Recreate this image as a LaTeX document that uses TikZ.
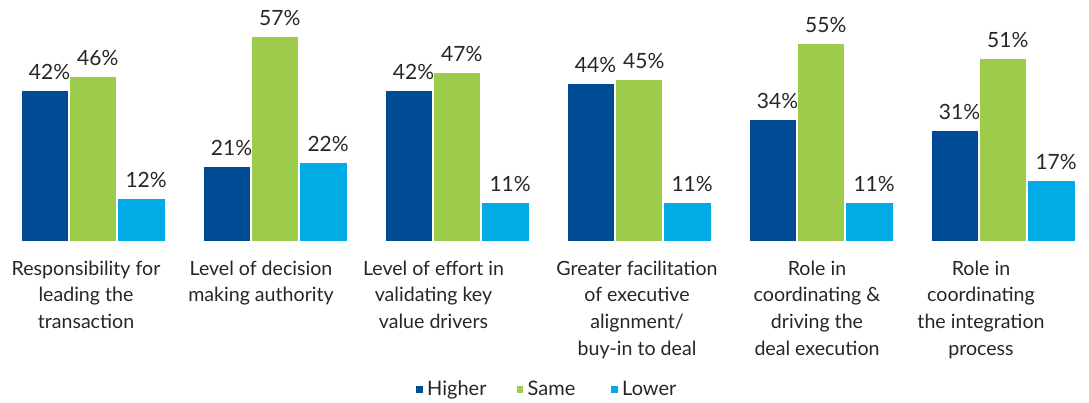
\documentclass[tikz,border=0pt]{standalone}
\usepackage{fontspec}
\setmainfont{Lato}
\usepackage{tikz}

\definecolor{HigherBlue}{RGB}{0,75,147}
\definecolor{SameGreen}{RGB}{157,203,76}
\definecolor{LowerBlue}{RGB}{0,171,230}
\definecolor{TextGray}{RGB}{38,38,38}

\tikzset{
  bar/.style={draw=white, line width=1pt},
  pct/.style={anchor=base, inner sep=0pt, text=TextGray, font=\fontsize{21}{25}\selectfont},
  cat/.style={anchor=base, align=center, inner sep=0pt, text=TextGray, font=\fontsize{19.6}{26.7}\selectfont},
  key/.style={anchor=base west, inner sep=0pt, text=TextGray, font=\fontsize{20}{24}\selectfont}
}

\begin{document}
\begin{tikzpicture}[x=1pt, y=-1pt]
\useasboundingbox (0,0) rectangle (1089,402);
        %Bars and value labels
    \foreach \g/\h/\s/\l in {0/42/46/12, 1/21/57/22, 2/42/47/11, 3/44/45/11, 4/34/55/11, 5/31/51/17}
    {
        \foreach \v/\c/\i in {\h/HigherBlue/0, \s/SameGreen/1, \l/LowerBlue/2}
        {
            \fill[\c, bar] (21+182*\g+48.3*\i, 241.7) rectangle ++(47.5, -3.6*\v);
            \node[pct] (v\g\i) at (21+182*\g+48.3*\i+28.5, 230.7-3.6*\v) {\v\%};
        }
    }
        %Category labels (base = last line)
    \node[cat] (cat0) at (86, 328.4) {Responsibility for\\leading the\\transaction};
    \node[cat] (cat1) at (261, 301.7) {Level of decision\\making authority};
    \node[cat] (cat2) at (433.5, 328.4) {Level of effort in\\validating key\\value drivers};
    \node[cat] (cat3) at (637, 355.1) {Greater facilitation\\of executive\\alignment/\\buy-in to deal};
    \node[cat] (cat4) at (817, 355.1) {Role in\\coordinating \&\\driving the\\deal execution};
    \node[cat] (cat5) at (981, 355.1) {Role in\\coordinating\\the integration\\process};
        %Legend
    \foreach \n/\c/\x/\t in {higher/HigherBlue/416/Higher, same/SameGreen/516.5/Same, lower/LowerBlue/611/Lower}
    {
        \fill[\c] (\x, 386) rectangle ++(6.5, 6.5);
        \node[key] (\n) at (\x+11, 395) {\t};
    }
\end{tikzpicture}
\end{document}
